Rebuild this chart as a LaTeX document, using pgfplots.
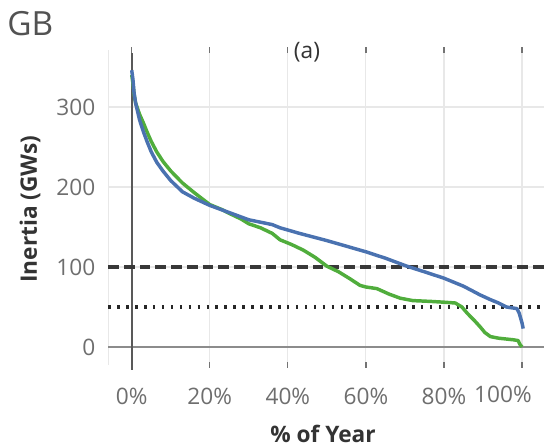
\documentclass[border=0pt]{standalone}
\usepackage{fontspec}
\setmainfont{Open Sans}
\usepackage{pgfplots}
\pgfplotsset{compat=1.18}
\definecolor{blueline}{HTML}{4A72B0}
\definecolor{greenline}{HTML}{50AD3C}
\definecolor{ticktext}{HTML}{6E6E6E}
\definecolor{labtext}{HTML}{333333}
\begin{document}
\begin{tikzpicture}
\path[use as bounding box] (0,0) rectangle (408pt,335.25pt);
\begin{axis}[
  at={(81.225pt,61.5pt)}, anchor=south west,
  scale only axis, width=326.4pt, height=236.25pt,
  xmin=-6, xmax=105.5, ymin=-22.5, ymax=371.25,
  axis line style={draw=none},
  clip=false,
  xtick={0,20,40,60,80,100},
  xticklabels={0\%,20\%,40\%,60\%,80\%,{}},
  ytick={0,100,200,300},
  grid=major,
  grid style={draw=black!9, line width=0.8pt},
  tick align=center,
  major tick length=4pt,
  xtick style={draw=black!55, line width=0.9pt},
  ytick style={draw=none},
  x tick label style={font=\fontsize{17}{20}\selectfont, text=ticktext, anchor=center, yshift=-21.75pt},
  y tick label style={font=\fontsize{17}{20}\selectfont, text=ticktext, anchor=east, inner sep=0pt, xshift=-7.5pt},
  /pgf/number format/assume math mode=true,
]
% pane left border
\draw[black!9, line width=0.8pt] (axis cs:-6,-22.5) -- (axis cs:-6,371.25);
% zero line
\draw[black!45, line width=1.5pt] (axis cs:-6,0) -- (axis cs:105.5,0);
% vertical axis line at 0
\draw[black!65, line width=1.5pt] (axis cs:0,-28.75) -- (axis cs:0,367.5);
% reference lines
\draw[black!78, line width=2.3pt, dash pattern=on 8pt off 3.8pt] (axis cs:-6,100) -- (axis cs:105.5,100);
\draw[black!85, line width=2.3pt, dash pattern=on 1.9pt off 4.8pt] (axis cs:-6,50) -- (axis cs:105.5,50);

\addplot[greenline, line width=2.6pt, line join=round] coordinates {
(0,340)(0.3,330)(0.6,316)(1,305)(2,291)(3,280)(4,268)(5,257)(6.4,244)(8,232)(10,220)(13,205)(16,193)(20,178)(23,172)(25,167)(28,160)(30,154)(33,149)(36,142)(38,134)(41,128)(44,121)(47,112)(50,101)(53,94)(56,85)(58.5,77)(60,75)(62.8,73)(66,66)(68.8,61)(72,58)(76.5,57)(80,56)(82.9,55)(84.6,50)(86,42)(88,32)(89.3,25)(90.5,18)(91.9,13)(94,11)(97.8,9)(99,8)(99.5,3)(100,0)
};
\addplot[blueline, line width=2.6pt, line join=round] coordinates {
(0,346)(0.3,335)(0.6,318)(1,305)(2,284)(3,269)(4,256)(5,244)(6.4,231)(8,220)(10,208)(13,194)(16,186)(20,177)(25,168)(30,159)(36,153)(38,149)(43,142)(50,133)(55,126)(60,119)(65,111)(70.5,101)(75,94)(80,86)(85,76)(89.3,65)(92,59)(94,55)(96,50)(98.7,48)(99.3,42)(100,30)(100.3,23)
};
\end{axis}
\node[anchor=west, inner sep=0pt, text=black!68, font=\fontsize{25}{30}\selectfont] at (5.25pt,317.6pt) {GB};
\node[inner sep=0pt, text=labtext, font=\fontsize{17}{20}\selectfont] at (230.25pt,296.25pt) {(a)};
\node[inner sep=0pt, rotate=90, text=labtext, font=\bfseries\fontsize{17}{20}\selectfont] at (22.5pt,178.5pt) {Inertia (GWs)};
\node[inner sep=0pt, text=labtext, font=\bfseries\fontsize{17}{20}\selectfont] at (242.25pt,10pt) {\% of Year};
\node[anchor=east, inner sep=0pt, text=ticktext, font=\fontsize{17}{20}\selectfont] at (399pt,39.75pt) {100\%};
\end{tikzpicture}
\end{document}
